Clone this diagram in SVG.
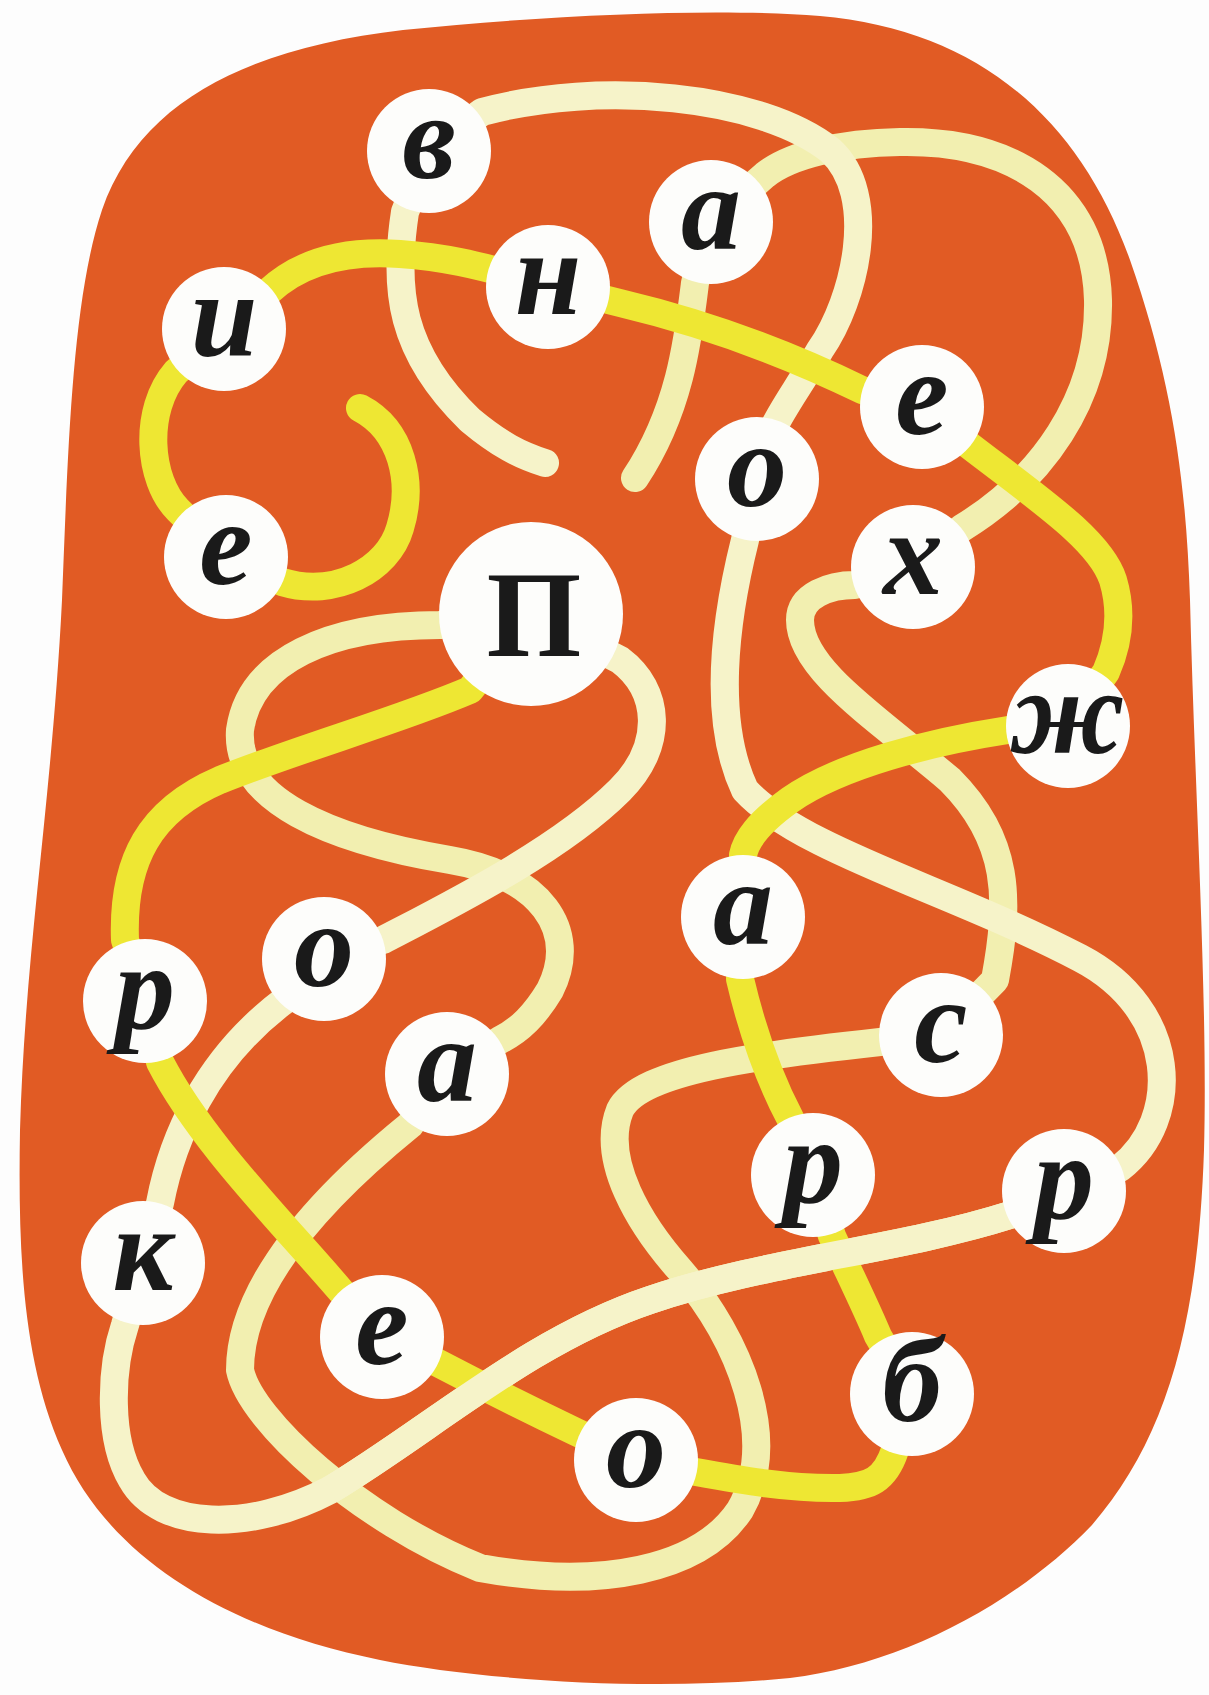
<svg xmlns="http://www.w3.org/2000/svg" width="1209" height="1695" viewBox="0 0 1209 1695">
<style>
.strand{fill:none;stroke-width:28;stroke-linecap:round;stroke-linejoin:round}
.flat{stroke-linecap:butt}
.pasha{stroke:#f2efb0}
.pokrov{stroke:#f6f3c9}
.preob{stroke:#eee733}
.node circle{fill:#fdfdfb}
.node text{font-family:"Liberation Serif","DejaVu Serif",serif;font-style:italic;font-weight:bold;font-size:120px;fill:#1a1a1a;text-anchor:middle}
.node text.cap{font-style:normal;font-size:122px}
</style>
<rect x="0" y="0" width="1209" height="1695" fill="#fdfdfd"/>
<path id="blob" fill="#e15b24" d="M 403 30 C 560 14 720 8 820 16 C 980 30 1080 120 1130 260 C 1172 380 1186 480 1190 600 C 1195 800 1208 1000 1204 1150 C 1198 1330 1165 1440 1092 1525 C 1015 1605 900 1665 790 1678 C 650 1692 480 1680 380 1660 C 230 1630 110 1560 62 1450 C 22 1360 18 1250 20 1130 C 25 950 52 800 62 600 C 68 450 72 300 102 210 C 140 100 250 48 403 30 Z"/>
<g id="connectors">
<path id="s-pasha" class="strand pasha" d="M 531 614 L 440 625 C 330 625 250 660 240 730 C 235 800 330 840 450 860 C 540 875 580 930 550 990 C 535 1015 520 1030 500 1040 L 447 1074 L 410 1125 C 330 1190 240 1280 240 1370 C 250 1420 360 1520 480 1568 C 600 1590 700 1570 740 1510 C 780 1440 740 1340 680 1270 C 640 1225 600 1160 620 1110 C 640 1070 760 1055 880 1042 L 941 1035 L 995 980 C 1010 900 1010 840 950 780 C 880 720 800 670 800 620 C 800 595 830 585 855 585 L 913 567 L 962 528 C 1040 480 1100 400 1098 300 C 1095 190 1010 140 900 142 C 840 143 790 155 765 175 L 711 222 L 695 283 C 688 340 680 410 635 478"/>
<path id="s-pokrov" class="strand pokrov" d="M 545 463 C 520 455 500 445 470 420 C 400 352 393 290 405 212 L 429 151 L 482 112 C 600 80 760 95 830 150 C 880 195 855 300 820 350 C 800 385 785 405 775 425 L 757 479 L 745 540 C 725 620 712 720 745 790 C 800 850 950 890 1080 958 C 1180 1010 1182 1120 1120 1168 L 1064 1191 L 1010 1215 C 900 1250 760 1262 650 1300 C 530 1340 430 1430 330 1490 C 250 1532 160 1530 132 1480 C 108 1440 110 1370 125 1325 L 143 1263 L 160 1203 C 172 1140 205 1060 285 1000 L 324 959 L 383 940 C 450 905 560 850 620 790 C 665 745 660 690 620 660 L 531 614"/>
<path id="s-preob" class="strand preob" d="M 360 408 C 402 430 414 482 400 528 C 388 570 335 598 282 582 L 226 557 L 178 510 C 148 480 143 410 176 372 L 224 329 L 268 292 C 300 262 345 250 400 254 C 440 257 470 262 548 285 L 620 303 C 700 322 780 350 862 390 L 922 407 L 966 443 C 1040 500 1100 540 1113 580 C 1122 610 1120 640 1106 672 L 1068 726 L 1008 730 C 930 742 840 765 790 800 C 758 823 746 840 743 855 L 743 917 L 740 979 C 752 1030 770 1080 790 1118 L 813 1175 L 832 1236 C 850 1275 865 1305 878 1336 L 912 1394 L 895 1450 C 885 1480 870 1487 840 1488 C 790 1489 740 1480 696 1472 L 636 1460 L 576 1432 C 530 1410 480 1385 436 1362 L 382 1337 L 340 1290 C 280 1220 200 1140 160 1062 L 145 1001 L 125 940 C 122 860 150 810 220 780 C 300 748 400 720 470 690 L 531 614"/>
<path id="s-pokrov-over" class="strand pokrov flat" d="M 1010 1215 C 900 1250 760 1262 650 1300 C 530 1340 430 1430 330 1490"/>
</g>
<g id="n-v" class="node"><circle cx="429" cy="151" r="62"/><text x="429" y="178">в</text></g>
<g id="n-a1" class="node"><circle cx="711" cy="222" r="62"/><text x="711" y="249">а</text></g>
<g id="n-n" class="node"><circle cx="548" cy="287" r="62"/><text x="548" y="314">н</text></g>
<g id="n-i" class="node"><circle cx="224" cy="329" r="62"/><text x="224" y="356">и</text></g>
<g id="n-e1" class="node"><circle cx="922" cy="407" r="62"/><text x="922" y="434">е</text></g>
<g id="n-o1" class="node"><circle cx="757" cy="479" r="62"/><text x="757" y="506">о</text></g>
<g id="n-e2" class="node"><circle cx="226" cy="557" r="62"/><text x="226" y="584">е</text></g>
<g id="n-h" class="node"><circle cx="913" cy="567" r="62"/><text x="913" y="594">х</text></g>
<g id="n-P" class="node"><circle cx="531" cy="614" r="92"/><text class="cap" x="534" y="656">П</text></g>
<g id="n-zh" class="node"><circle cx="1068" cy="726" r="62"/><text x="1068" y="753">ж</text></g>
<g id="n-a2" class="node"><circle cx="743" cy="917" r="62"/><text x="743" y="944">а</text></g>
<g id="n-o2" class="node"><circle cx="324" cy="959" r="62"/><text x="324" y="986">о</text></g>
<g id="n-r1" class="node"><circle cx="145" cy="1001" r="62"/><text x="145" y="1028">р</text></g>
<g id="n-s" class="node"><circle cx="941" cy="1035" r="62"/><text x="941" y="1062">с</text></g>
<g id="n-a3" class="node"><circle cx="447" cy="1074" r="62"/><text x="447" y="1101">а</text></g>
<g id="n-r2" class="node"><circle cx="813" cy="1175" r="62"/><text x="813" y="1202">р</text></g>
<g id="n-r3" class="node"><circle cx="1064" cy="1191" r="62"/><text x="1064" y="1218">р</text></g>
<g id="n-k" class="node"><circle cx="143" cy="1263" r="62"/><text x="143" y="1290">к</text></g>
<g id="n-e3" class="node"><circle cx="382" cy="1337" r="62"/><text x="382" y="1364">е</text></g>
<g id="n-b" class="node"><circle cx="912" cy="1394" r="62"/><text x="912" y="1421">б</text></g>
<g id="n-o3" class="node"><circle cx="636" cy="1460" r="62"/><text x="636" y="1487">о</text></g>
</svg>
